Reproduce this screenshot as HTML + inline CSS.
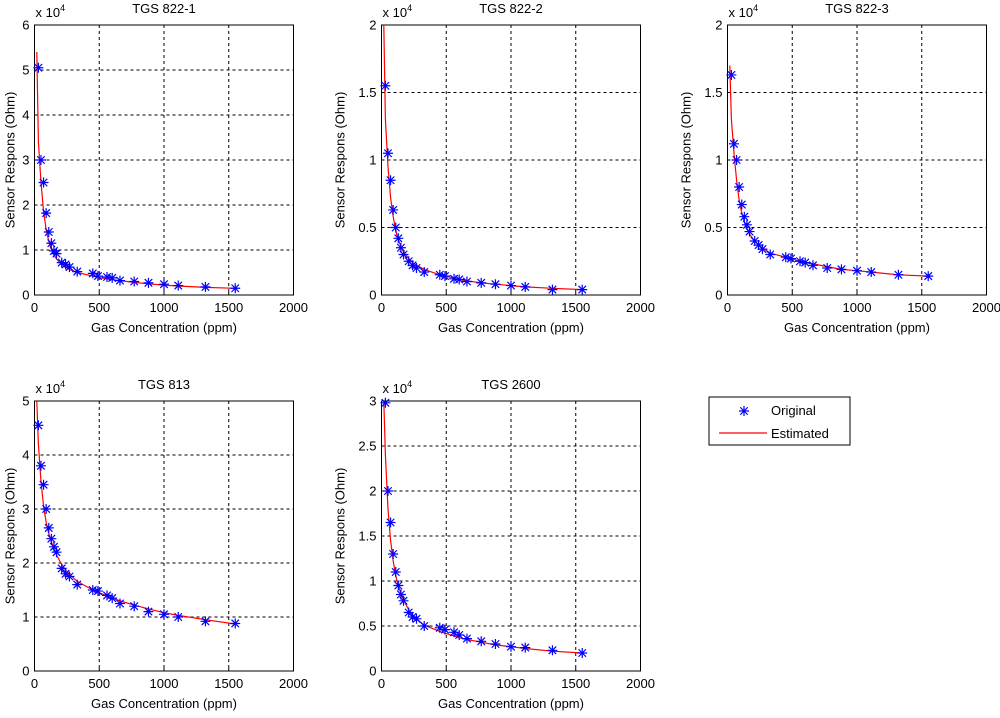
<!DOCTYPE html>
<html><head><meta charset="utf-8"><style>
body{margin:0;background:#fff;width:1000px;height:713px;overflow:hidden}
svg text{font-family:"Liberation Sans",sans-serif;font-size:13px;fill:#000}
</style></head><body>
<svg id="fig" width="1000" height="713" viewBox="0 0 1000 713"></svg>
<script>
const conc=[30,50,70,90,110,130,150,170,210,240,270,330,450,490,560,600,660,770,880,1000,1110,1320,1550];
const estConc=[18,30,50,70,90,110,130,150,170,210,240,270,330,450,490,560,600,660,770,880,1000,1110,1320,1550];
const titles=["TGS 822-1","TGS 822-2","TGS 822-3","TGS 813","TGS 2600"];
const yMaxs=[6,2,2,5,3];
const yTickSteps=[1,0.5,0.5,1,0.5];
const xTicks=[0,500,1000,1500,2000];
const orig1=[5.05,3.0,2.5,1.82,1.4,1.15,0.98,0.92,0.72,0.68,0.62,0.52,0.48,0.42,0.4,0.38,0.32,0.3,0.27,0.24,0.21,0.18,0.15];
const orig2=[1.55,1.05,0.85,0.63,0.5,0.42,0.35,0.3,0.25,0.22,0.2,0.17,0.15,0.14,0.12,0.115,0.1,0.09,0.08,0.07,0.06,0.04,0.04];
const orig3=[1.63,1.12,1.0,0.8,0.67,0.58,0.52,0.47,0.4,0.37,0.34,0.3,0.28,0.27,0.25,0.24,0.22,0.2,0.19,0.18,0.17,0.15,0.14];
const orig4=[4.55,3.8,3.45,3.0,2.65,2.45,2.3,2.2,1.9,1.8,1.75,1.6,1.5,1.48,1.4,1.35,1.25,1.2,1.1,1.05,1.0,0.92,0.88];
const orig5=[2.98,2.0,1.65,1.3,1.1,0.95,0.85,0.78,0.65,0.6,0.58,0.5,0.48,0.46,0.43,0.4,0.36,0.33,0.3,0.27,0.26,0.23,0.2];
const est1=[5.4,3.4,2.5,1.85,1.45,1.2,1.02,0.9,0.8,0.68,0.62,0.57,0.5,0.42,0.39,0.36,0.34,0.32,0.28,0.25,0.22,0.2,0.17,0.15];
const est2=[2.0,1.3,0.95,0.72,0.58,0.48,0.41,0.36,0.32,0.27,0.24,0.22,0.19,0.15,0.14,0.125,0.115,0.105,0.09,0.08,0.07,0.06,0.05,0.04];
const est3=[1.7,1.3,1.05,0.85,0.7,0.61,0.54,0.49,0.45,0.4,0.37,0.35,0.31,0.28,0.27,0.25,0.24,0.23,0.21,0.19,0.18,0.17,0.15,0.14];
const est4=[5.0,4.2,3.5,3.05,2.75,2.55,2.4,2.27,2.15,1.97,1.87,1.79,1.66,1.5,1.46,1.39,1.35,1.3,1.22,1.15,1.08,1.03,0.95,0.87];
const est5=[3.0,2.4,1.8,1.45,1.22,1.06,0.95,0.86,0.79,0.68,0.62,0.58,0.51,0.44,0.42,0.39,0.37,0.35,0.32,0.29,0.27,0.25,0.22,0.2];
const origs=[orig1,orig2,orig3,orig4,orig5];
const ests=[est1,est2,est3,est4,est5];
const NS="http://www.w3.org/2000/svg";
const fig=document.getElementById('fig');
function mk(tag,attrs,parent,txt){const e=document.createElementNS(NS,tag);for(const k in attrs)e.setAttribute(k,attrs[k]);if(txt!==undefined)e.textContent=txt;(parent||fig).appendChild(e);return e;}
function star(x,y,r){return `M${x-r},${y}H${x+r}M${x},${y-r}V${y+r}M${x-r*0.75},${y-r*0.75}L${x+r*0.75},${y+r*0.75}M${x-r*0.75},${y+r*0.75}L${x+r*0.75},${y-r*0.75}`;}
const pos=[[34.5,25],[381.5,25],[727.5,25],[34.5,401],[381.5,401]];
const W=259,H=270;
pos.forEach((p,i)=>{
  const g=mk('g',{});
  
  
  const X0=p[0],Y0=p[1];
  const sx=v=>X0+v/2000*W;
  const sy=v=>Y0+H-v/yMaxs[i]*H;
  xTicks.forEach(t=>{const x=sx(t);
    if(t>0&&t<2000){const l=mk('line',{x1:x,y1:Y0,x2:x,y2:Y0+H,stroke:'#000','stroke-dasharray':'3,3','stroke-width':1},g);}
    mk('line',{x1:x,y1:Y0+H,x2:x,y2:Y0+H-3,stroke:'#000'},g);
    const tx=mk('text',{x:x,y:Y0+H+17,'text-anchor':'middle'},g,String(t));
    
  });
  const st=yTickSteps[i];
  const decimal=st<1;
  for(let k=0;k*st<=yMaxs[i]+1e-9;k++){const v=k*st,y=sy(v);
    if(v>0&&v<yMaxs[i]){const l=mk('line',{x1:X0,y1:y,x2:X0+W,y2:y,stroke:'#000','stroke-dasharray':'3,3','stroke-width':1},g);}
    mk('line',{x1:X0,y1:y,x2:X0+3,y2:y,stroke:'#000'},g);
    const tx=mk('text',{x:X0-5,y:y+4.5,'text-anchor':'end'},g,String(Math.round(v*10)/10));
    
  }
  const box=mk('rect',{x:X0,y:Y0,width:W,height:H,fill:'none',stroke:'#000','stroke-width':1},g);
  
  const t=mk('text',{x:X0+W/2,y:Y0-12,'text-anchor':'middle'},g,titles[i]);
  
  const ex=mk('text',{x:X0+1,y:Y0-8},g);
  
  ex.innerHTML='x 10<tspan dy="-6" font-size="9">4</tspan>';
  const xl=mk('text',{x:X0+W/2,y:Y0+H+37,'text-anchor':'middle'},g,'Gas Concentration (ppm)');
  
  const off=decimal?37:20;
  const yl=mk('text',{x:0,y:0,'text-anchor':'middle',transform:`translate(${X0-off},${Y0+H/2}) rotate(-90)`},g,'Sensor Respons (Ohm)');
  
  const d=ests[i].map((v,j)=>(j?'L':'M')+sx(estConc[j]).toFixed(1)+','+sy(v).toFixed(1)).join('');
  const pl=mk('path',{d:d,fill:'none',stroke:'#ff0000','stroke-width':1.2},g);
  
  origs[i].forEach((v,j)=>{const x=sx(conc[j]),y=sy(v);
    const m=mk('path',{d:star(x,y,5),stroke:'#0000ff','stroke-width':1.2},g);
    
  });
});
const lg=mk('g',{});

mk('rect',{x:709,y:397,width:141,height:48,fill:'#fff',stroke:'#000'},lg);
mk('path',{d:star(744,411,5),stroke:'#0000ff','stroke-width':1.2},lg);
const t1=mk('text',{x:771,y:415},lg,'Original');

mk('line',{x1:719,y1:433,x2:767,y2:433,stroke:'#ff0000','stroke-width':1.2},lg);
const t2=mk('text',{x:771,y:438},lg,'Estimated');

</script>
</body></html>
